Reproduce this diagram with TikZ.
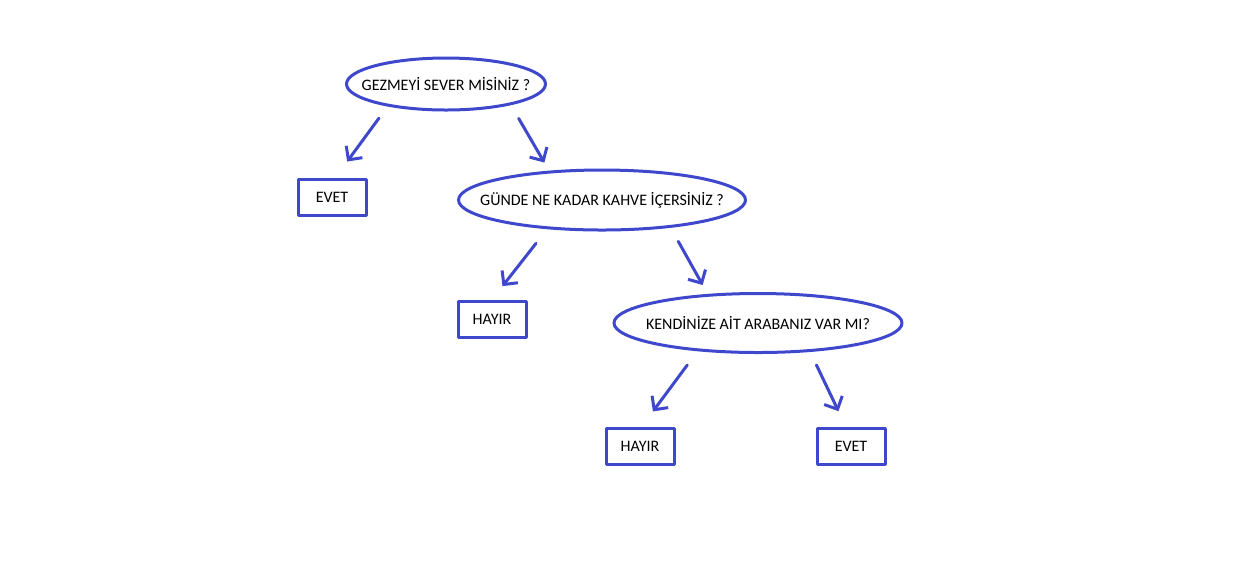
\documentclass[tikz,border=0pt]{standalone}
\usepackage{fontspec}
\setmainfont{Carlito}
\usetikzlibrary{shapes.geometric,arrows.meta}
\definecolor{kalem}{RGB}{63,72,204}
\begin{document}
\begin{tikzpicture}[x=.5pt, y=-.5pt, line join=round, line cap=round, >={Straight Barb[length=5pt,width=10pt]},
	font=\fontsize{8}{9}\selectfont,
	soru/.style={ellipse, draw=kalem, line width=1.5pt, inner sep=0pt},
	cevap/.style={rectangle, draw=kalem, line width=1.5pt, inner sep=0pt, minimum width=34pt, minimum height=18pt},
	ok/.style={->, draw=kalem, line width=1.5pt}]
	\useasboundingbox[fill=white] (0,0) rectangle (1253,570);
	% sorular
	\node[soru, minimum width=99.5pt, minimum height=26pt] (gezme) at (446,84) {\makebox[0pt]{GEZMEYİ SEVER MİSİNİZ ?}};
	\node[soru, minimum width=143.5pt, minimum height=30pt] (kahve) at (602,200) {\makebox[0pt]{GÜNDE NE KADAR KAHVE İÇERSİNİZ ?}};
	\node[soru, minimum width=144pt, minimum height=29.5pt] (araba) at (758,323) {\makebox[0pt]{KENDİNİZE AİT ARABANIZ VAR MI?}};
	% cevaplar
	\node[cevap] (evet1) at (332,197) {EVET};
	\node[cevap] (hayir1) at (492,319) {HAYIR};
	\node[cevap] (hayir2) at (640,446) {HAYIR};
	\node[cevap] (evet2) at (851,446) {EVET};
	\foreach \a/\b/\s/\e in {gezme.201/evet1.80/7.3/9.9, gezme.342/kahve.151/7.7/4.7,
		kahve.208/hayir1.north/9/8.5, kahve.338/araba.150/7.8/5.1,
		araba.205/hayir2.85/8.6/9.4, araba.331/evet2.105/7.2/8.5}
		\draw[ok, shorten <=\s pt, shorten >=\e pt] (\a) -- (\b);
\end{tikzpicture}
\end{document}
